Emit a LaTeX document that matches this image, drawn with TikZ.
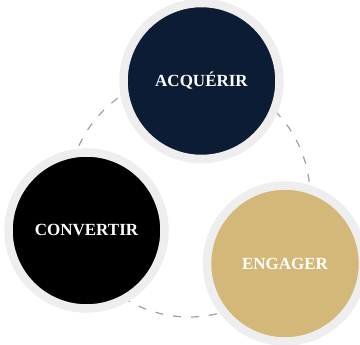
\documentclass[tikz,border=0pt]{standalone}
\usepackage{fontspec}
\setmainfont{Liberation Serif}
\definecolor{navy}{HTML}{0C1C35}
\definecolor{gold}{HTML}{D4B879}
\definecolor{ringgray}{HTML}{EEEEEE}
\definecolor{dashgray}{HTML}{A0A0A0}
\newcommand{\stagelabel}[1]{\raisebox{-2pt}{#1}}
\begin{document}
\begin{tikzpicture}[x=1pt,y=-1pt,
  stage/.style={circle, inner sep=0pt, minimum size=156pt, draw=ringgray,
    line width=8.5pt, text=white, font=\bfseries\fontsize{17}{19}\selectfont},
  cycle/.style={draw=dashgray, line width=1.2pt, dash pattern=on 8pt off 10pt}]
  \useasboundingbox[fill=white] (0,0) rectangle (360,345);
  % dashed loop linking the three stages
  \coordinate (hub) at (189,196);
  \draw[cycle] (hub) circle[radius=121];
  % stages
  \node[stage, fill=navy] (acq) at (201.5,81) {\stagelabel{ACQUÉRIR}};
  \node[stage, fill=black] (conv) at (86.5,230.5) {\stagelabel{CONVERTIR}};
  \node[stage, fill=gold] (eng) at (285,263.5) {\stagelabel{ENGAGER}};
\end{tikzpicture}
\end{document}
